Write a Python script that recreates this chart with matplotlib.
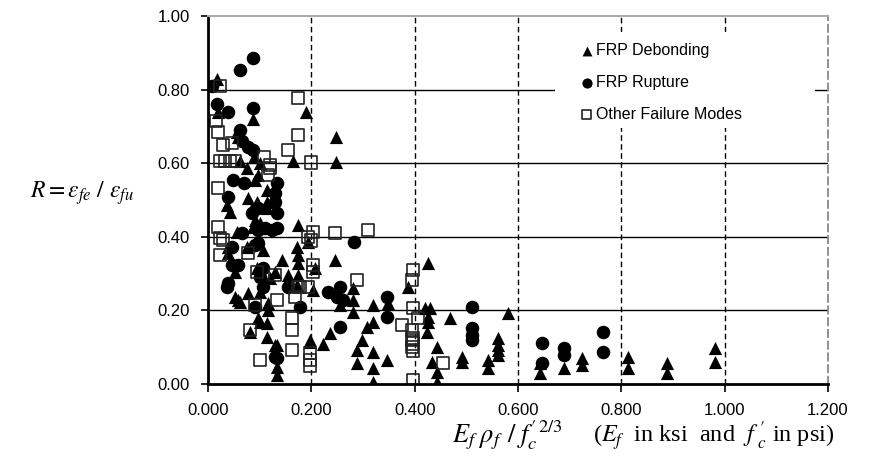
import matplotlib
matplotlib.use("Agg")
import matplotlib.pyplot as plt
from matplotlib.patches import Rectangle

plt.rcParams['font.family'] = ['Liberation Sans', 'DejaVu Sans']
plt.rcParams['mathtext.fontset'] = 'stix'

# FRP debonding (triangles)
deb_x = [0.017, 0.190, 0.020, 0.087, 0.056, 0.058, 0.089, 0.165, 0.248, 0.248, 0.062, 0.100,
         0.091, 0.097, 0.075, 0.114, 0.037, 0.043, 0.077, 0.085, 0.095, 0.114, 0.114, 0.091,
         0.056, 0.087, 0.100, 0.174, 0.039, 0.039, 0.075, 0.106, 0.143, 0.172, 0.174, 0.174,
         0.052, 0.095, 0.120, 0.130, 0.155, 0.174, 0.193, 0.246, 0.207, 0.387, 0.280, 0.203,
         0.255, 0.280, 0.280, 0.319, 0.348, 0.319, 0.308, 0.298, 0.288, 0.319, 0.288, 0.319,
         0.346, 0.319, 0.236, 0.222, 0.197, 0.134, 0.134, 0.134, 0.114, 0.081, 0.100, 0.114,
         0.116, 0.052, 0.062, 0.077, 0.100, 0.116, 0.058, 0.097, 0.130, 0.172, 0.197,
         0.426, 0.420, 0.430, 0.426, 0.426, 0.424, 0.468, 0.580, 0.561, 0.561, 0.561, 0.561,
         0.443, 0.433, 0.443, 0.443, 0.491, 0.491, 0.542, 0.542, 0.642, 0.642, 0.690, 0.724,
         0.724, 0.813, 0.813, 0.888, 0.888, 0.981, 0.981]
deb_y = [0.830, 0.740, 0.740, 0.720, 0.685, 0.670, 0.617, 0.605, 0.670, 0.603, 0.605, 0.600,
         0.555, 0.568, 0.587, 0.527, 0.486, 0.467, 0.505, 0.478, 0.495, 0.495, 0.478, 0.446,
         0.413, 0.427, 0.437, 0.432, 0.372, 0.356, 0.372, 0.364, 0.337, 0.372, 0.350, 0.330,
         0.305, 0.315, 0.288, 0.305, 0.296, 0.296, 0.386, 0.337, 0.315, 0.264, 0.260, 0.255,
         0.215, 0.228, 0.196, 0.215, 0.220, 0.168, 0.155, 0.120, 0.092, 0.087, 0.057, 0.043,
         0.065, 0.005, 0.138, 0.110, 0.120, 0.047, 0.025, 0.105, 0.128, 0.140, 0.168, 0.165,
         0.200, 0.236, 0.223, 0.247, 0.250, 0.220, 0.228, 0.180, 0.106, 0.270, 0.115,
         0.328, 0.206, 0.206, 0.182, 0.168, 0.142, 0.180, 0.193, 0.125, 0.106, 0.092, 0.079,
         0.100, 0.060, 0.033, 0.005, 0.073, 0.060, 0.065, 0.043, 0.057, 0.030, 0.043, 0.070,
         0.052, 0.073, 0.043, 0.057, 0.030, 0.098, 0.060]

# FRP rupture (circles)
rup_x = [0.062, 0.087, 0.008, 0.017, 0.039, 0.087, 0.062, 0.066, 0.077, 0.087,
         0.048, 0.070, 0.134, 0.130, 0.039, 0.085, 0.097, 0.134, 0.130, 0.066, 0.097,
         0.110, 0.124, 0.134, 0.046, 0.091, 0.097, 0.046, 0.058, 0.039, 0.106, 0.100,
         0.283, 0.155, 0.232, 0.255, 0.250, 0.261, 0.346, 0.346, 0.255, 0.134, 0.091,
         0.037, 0.106, 0.178, 0.130, 0.510, 0.510, 0.510, 0.510, 0.646, 0.646, 0.690,
         0.690, 0.765, 0.765]
rup_y = [0.853, 0.886, 0.810, 0.760, 0.740, 0.750, 0.690, 0.660, 0.645, 0.635,
         0.555, 0.546, 0.546, 0.520, 0.508, 0.465, 0.478, 0.465, 0.495, 0.410, 0.418,
         0.424, 0.418, 0.424, 0.372, 0.378, 0.383, 0.323, 0.323, 0.274, 0.315, 0.290,
         0.386, 0.264, 0.250, 0.264, 0.236, 0.228, 0.236, 0.182, 0.155, 0.070, 0.210,
         0.264, 0.264, 0.210, 0.073, 0.210, 0.152, 0.133, 0.120, 0.112, 0.057, 0.098,
         0.079, 0.142, 0.087]

# other failure modes (open squares)
oth_x = [0.023, 0.174, 0.015, 0.020, 0.174, 0.029, 0.046, 0.155, 0.200, 0.023, 0.033,
         0.043, 0.052, 0.120, 0.108, 0.020, 0.116, 0.120, 0.020, 0.023, 0.029, 0.023,
         0.077, 0.193, 0.200, 0.095, 0.130, 0.203, 0.246, 0.310, 0.203, 0.203, 0.397,
         0.395, 0.288, 0.174, 0.193, 0.397, 0.375, 0.395, 0.397, 0.397, 0.397, 0.397,
         0.197, 0.197, 0.197, 0.162, 0.162, 0.162, 0.100, 0.081, 0.134, 0.168, 0.178,
         0.091, 0.406, 0.395, 0.395, 0.455]
oth_y = [0.810, 0.777, 0.715, 0.685, 0.677, 0.650, 0.655, 0.635, 0.602, 0.605, 0.605,
         0.605, 0.605, 0.595, 0.617, 0.533, 0.568, 0.587, 0.427, 0.397, 0.391, 0.350,
         0.356, 0.400, 0.390, 0.305, 0.296, 0.413, 0.410, 0.418, 0.323, 0.305, 0.310,
         0.283, 0.283, 0.264, 0.264, 0.206, 0.160, 0.147, 0.125, 0.110, 0.090, 0.010,
         0.085, 0.065, 0.050, 0.092, 0.180, 0.147, 0.065, 0.147, 0.228, 0.236, 0.264,
         0.215, 0.180, 0.120, 0.100, 0.057]

x_ticks = [0.0, 0.2, 0.4, 0.6, 0.8, 1.0, 1.2]
y_ticks = [0.0, 0.2, 0.4, 0.6, 0.8, 1.0]

fig = plt.figure(figsize=(8.7, 4.66), dpi=100)
ax = fig.add_axes([0.2391, 0.176, 0.7126, 0.7897])
ax.set_xlim(0, 1.2)
ax.set_ylim(0, 1.0)

for yv in y_ticks[1:-1]:
    ax.axhline(yv, color='black', lw=1.0, zorder=1)
for xv in x_ticks[1:-1]:
    ax.axvline(xv, color='black', lw=1.0, ls=(0, (4, 2.5)), zorder=1)

# white box behind the legend
ax.add_patch(Rectangle((0.56, 0.696), 0.419, 0.261, transform=ax.transAxes,
                       facecolor='white', edgecolor='none', zorder=1.5))

ax.scatter(deb_x, deb_y, marker='^', s=90, color='black', linewidths=0, zorder=2,
           label='FRP Debonding')
ax.scatter(rup_x, rup_y, marker='o', s=95, color='black', linewidths=0, zorder=2,
           label='FRP Rupture')
ax.scatter(oth_x, oth_y, marker='s', s=78, facecolors='none', edgecolors='#222222',
           linewidths=1.2, zorder=2, label='Other Failure Modes')

ax.spines['left'].set_linewidth(2)
ax.spines['bottom'].set_linewidth(2)
ax.spines['top'].set_color('#aaaaaa')
ax.spines['top'].set_linewidth(1.5)
ax.spines['right'].set_color('#888888')
ax.spines['right'].set_linestyle((0, (4, 2.5)))
ax.spines['right'].set_linewidth(1.3)

ax.set_xticks(x_ticks)
ax.set_yticks(y_ticks)
ax.set_xticklabels(['%.3f' % v for v in x_ticks])
ax.set_yticklabels(['%.2f' % v for v in y_ticks])
ax.tick_params(axis='x', direction='out', length=6, width=1.2, pad=8, labelsize=12)
ax.tick_params(axis='y', direction='out', length=5, width=1.2, pad=8, labelsize=12)

leg = ax.legend(loc='upper left', bbox_to_anchor=(0.5775, 0.965), frameon=False,
                fontsize=11.5, handlelength=0.8, handletextpad=0.15, labelspacing=1.05,
                markerscale=0.75, borderpad=0.4)
leg.set_zorder(3)

fig.text(30 / 870, 0.586, r'$R = \varepsilon_{fe}\ /\ \varepsilon_{fu}$', fontsize=17,
         va='center', ha='left')
fig.text(452 / 870, 0.05, r'$E_f\;\rho_f\;\,/\;f_c^{\prime\,2/3}$', fontsize=19,
         va='baseline', ha='left')
fig.text(593 / 870, 0.05, r'($E_f$  in ksi  and  $f^{\ \prime}_{\ c}$ in psi)', fontsize=17.5,
         va='baseline', ha='left', family='Liberation Serif')

fig.savefig('out.png', dpi=100)
